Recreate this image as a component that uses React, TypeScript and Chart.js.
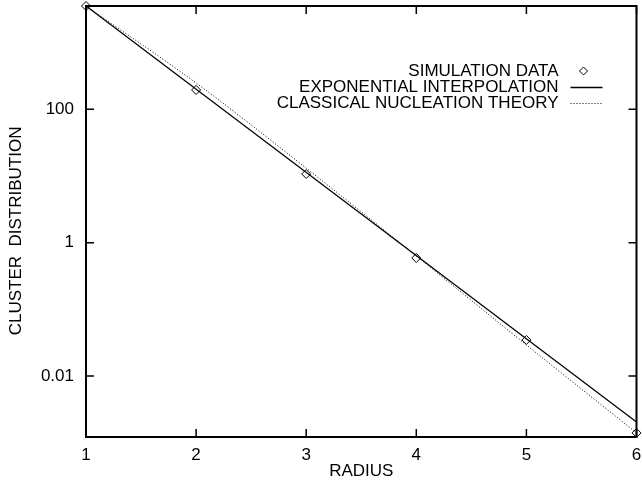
import React, { useEffect, useRef } from "react";
import { Chart, registerables } from "chart.js";

Chart.register(...registerables);

// ---- data ----
const radius = [1, 2, 3, 4, 5, 6];
const simulationData = [3540, 195, 10.7, 0.589, 0.0347, 0.0014];
const interpRadius = [1, 6];
const interpValues = [3540, 0.00204];
const cntRadius = [1, 2, 3, 4, 5, 6];
const cntValues = [3540, 248, 13.1, 0.63, 0.0292, 0.0014];
const xTickValues = [1, 2, 3, 4, 5, 6];
const yTickValues = [0.01, 1, 100];
const yTickLabels = ["0.01", "1", "100"];
const seriesLabels = [
  "SIMULATION DATA",
  "EXPONENTIAL INTERPOLATION",
  "CLASSICAL NUCLEATION THEORY",
];
const xTitle = "RADIUS";
const yTitle = "CLUSTER  DISTRIBUTION    ";
const yMin = 0.001216;
const yMax = 3540;

const FONT = "'Liberation Sans', Arial, Helvetica, sans-serif";

function diamond(ctx: CanvasRenderingContext2D, cx: number, cy: number, r: number) {
  ctx.beginPath();
  ctx.moveTo(cx, cy - r);
  ctx.lineTo(cx + r, cy);
  ctx.lineTo(cx, cy + r);
  ctx.lineTo(cx - r, cy);
  ctx.closePath();
  ctx.stroke();
}

const framePlugin = {
  id: "frame",
  beforeDatasetsDraw(chart: any) {
    const { ctx, chartArea, scales } = chart;
    const { left, right, top, bottom } = chartArea;
    const x = scales.x;
    const y = scales.y;
    ctx.save();
    ctx.strokeStyle = "#000";
    ctx.lineWidth = 1.5;
    ctx.beginPath();
    const tl = 8;
    yTickValues.forEach((v) => {
      const py = y.getPixelForValue(v);
      ctx.moveTo(left, py);
      ctx.lineTo(left + tl, py);
      ctx.moveTo(right, py);
      ctx.lineTo(right - tl, py);
    });
    xTickValues.forEach((v) => {
      const px = x.getPixelForValue(v);
      ctx.moveTo(px, bottom);
      ctx.lineTo(px, bottom - tl);
      ctx.moveTo(px, top);
      ctx.lineTo(px, top + tl);
    });
    ctx.stroke();
    ctx.lineWidth = 2;
    ctx.strokeRect(left, top, right - left, bottom - top);
    ctx.restore();
  },
  afterDraw(chart: any) {
    const { ctx, chartArea } = chart;
    const { right, top } = chartArea;
    const textX = right - 78;
    const symL = right - 66;
    const symR = right - 34;
    const symC = right - 53;
    const rows = [top + 65, top + 81.5, top + 97.5];
    ctx.save();
    ctx.font = `17px ${FONT}`;
    ctx.fillStyle = "#000";
    ctx.textAlign = "right";
    ctx.textBaseline = "middle";
    const labels = chart.data.datasets.map((d: any) => d.label);
    labels.forEach((lab: string, i: number) => {
      ctx.fillText(lab, textX, rows[i]);
    });
    ctx.strokeStyle = "#000";
    // diamond
    ctx.lineWidth = 1;
    diamond(ctx, symC, rows[0], 4);
    // solid
    ctx.lineWidth = 1.3;
    ctx.beginPath();
    ctx.moveTo(symL, rows[1]);
    ctx.lineTo(symR, rows[1]);
    ctx.stroke();
    // dotted
    ctx.lineWidth = 1;
    ctx.setLineDash([1, 2]);
    ctx.beginPath();
    ctx.moveTo(symL, rows[2]);
    ctx.lineTo(symR, rows[2]);
    ctx.stroke();
    ctx.restore();
  },
};

export default function App() {
  const ref = useRef<HTMLCanvasElement | null>(null);
  useEffect(() => {
    if (!ref.current) return;
    const chart = new Chart(ref.current, {
      type: "line",
      data: {
        datasets: [
          {
            label: seriesLabels[0],
            data: radius.map((r, i) => ({ x: r, y: simulationData[i] })),
            showLine: false,
            pointStyle: "rectRot",
            pointRadius: 4.5,
            pointBorderWidth: 1,
            pointBorderColor: "#000",
            pointBackgroundColor: "rgba(0,0,0,0)",
            borderColor: "#000",
            clip: false,
          } as any,
          {
            label: seriesLabels[1],
            data: interpRadius.map((r, i) => ({ x: r, y: interpValues[i] })),
            borderColor: "#000",
            borderWidth: 1.3,
            pointRadius: 0,
            fill: false,
          },
          {
            label: seriesLabels[2],
            data: cntRadius.map((r, i) => ({ x: r, y: cntValues[i] })),
            borderColor: "#000",
            borderWidth: 1,
            borderDash: [1, 2],
            pointRadius: 0,
            cubicInterpolationMode: "monotone",
            fill: false,
          },
        ],
      },
      options: {
        animation: false,
        responsive: false,
        devicePixelRatio: 1,
        layout: { padding: { top: 6, right: 2, left: 0, bottom: 0 } },
        plugins: {
          legend: { display: false },
          tooltip: { enabled: false },
        },
        scales: {
          x: {
            type: "linear",
            min: 1,
            max: 6,
            grid: { display: false, drawTicks: false },
            border: { display: false },
            ticks: {
              stepSize: 1,
              padding: 8,
              color: "#000",
              font: { family: FONT, size: 17 },
              maxRotation: 0,
            },
            title: {
              display: true,
              text: xTitle,
              color: "#000",
              font: { family: FONT, size: 17 },
              padding: { top: 0, bottom: 5 },
            },
            afterFit: (s: any) => {
              s.height = 50;
              s.paddingLeft = 0;
              s.paddingRight = 0;
            },
          },
          y: {
            type: "logarithmic",
            min: yMin,
            max: yMax,
            grid: { display: false, drawTicks: false },
            border: { display: false },
            afterBuildTicks: (s: any) => {
              s.ticks = yTickValues.map((v) => ({ value: v }));
            },
            ticks: {
              padding: 12,
              color: "#000",
              font: { family: FONT, size: 17 },
              callback: (_v: any, i: number) => yTickLabels[i],
            },
            title: {
              display: true,
              text: yTitle,
              color: "#000",
              font: { family: FONT, size: 17 },
              padding: { top: 6, bottom: 0 },
            },
            afterFit: (s: any) => {
              s.width = 86;
              s.paddingTop = 0;
              s.paddingBottom = 0;
            },
          },
        },
      },
      plugins: [framePlugin],
    });
    return () => chart.destroy();
  }, []);
  return (
    <div style={{ position: "absolute", left: 0, top: 0, width: 642, height: 487, background: "#fff" }}>
      <canvas ref={ref} width={642} height={487} style={{ display: "block" }} />
    </div>
  );
}
